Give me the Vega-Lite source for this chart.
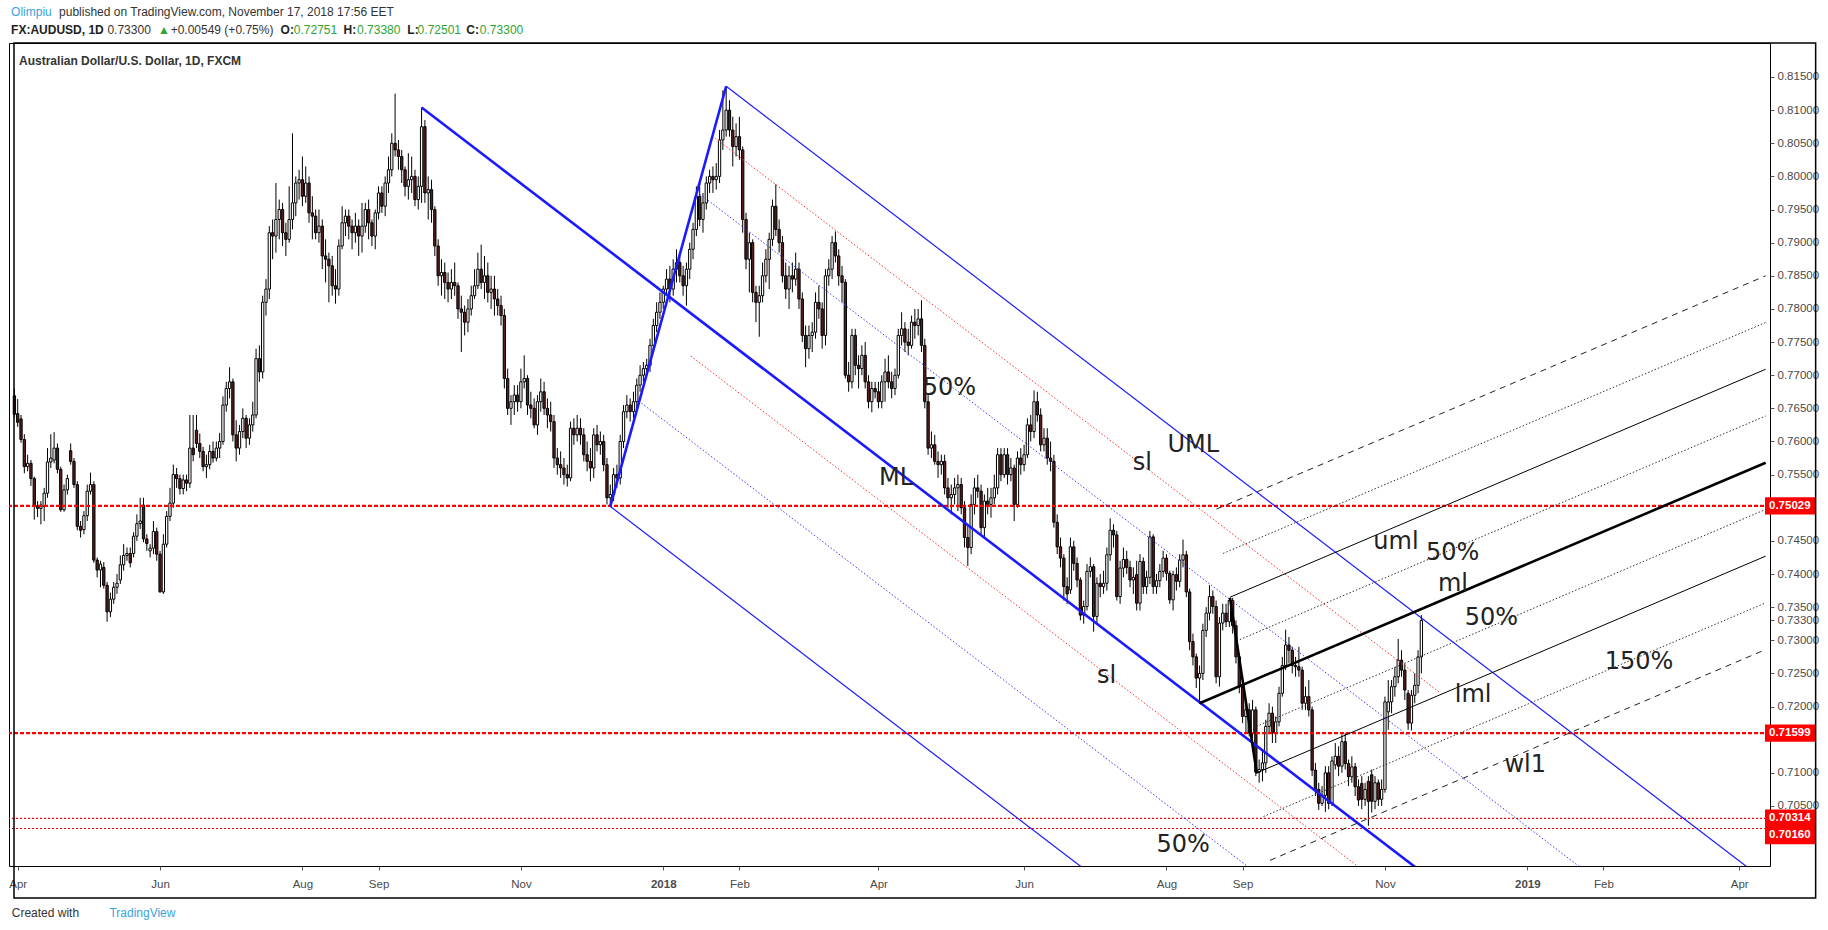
{
  "$schema": "https://vega.github.io/schema/vega-lite/v6.json",
  "width": 1761,
  "height": 823,
  "autosize": {"type": "none"},
  "padding": {"left": 9, "top": 43, "right": 58, "bottom": 64},
  "background": "#ffffff",
  "config": {"view": {"stroke": "#000000", "strokeWidth": 1}, "font": "Liberation Sans"},
  "datasets": {
    "candles": [
      {"i":0,"o":0.7669,"h":0.768,"l":0.7636,"c":0.7641},{"i":1,"o":0.7642,"h":0.7664,"l":0.7622,"c":0.7629},{"i":2,"o":0.7634,"h":0.764,"l":0.7598,"c":0.7603},{"i":3,"o":0.7603,"h":0.7611,"l":0.7552,"c":0.7562},{"i":4,"o":0.7562,"h":0.758,"l":0.7555,"c":0.7567},
      {"i":5,"o":0.7567,"h":0.7572,"l":0.7533,"c":0.7544},{"i":6,"o":0.7544,"h":0.7547,"l":0.7482,"c":0.7503},{"i":7,"o":0.7503,"h":0.751,"l":0.7486,"c":0.7499},{"i":8,"o":0.7499,"h":0.751,"l":0.7475,"c":0.7504},{"i":9,"o":0.7502,"h":0.753,"l":0.748,"c":0.7522},
      {"i":10,"o":0.7522,"h":0.759,"l":0.7515,"c":0.7569},{"i":11,"o":0.7569,"h":0.7611,"l":0.756,"c":0.7575},{"i":12,"o":0.7572,"h":0.7614,"l":0.7567,"c":0.759},{"i":13,"o":0.759,"h":0.7597,"l":0.7552,"c":0.7558},{"i":14,"o":0.7558,"h":0.7562,"l":0.7494,"c":0.7497},
      {"i":15,"o":0.7497,"h":0.7535,"l":0.7494,"c":0.7527},{"i":16,"o":0.7527,"h":0.755,"l":0.752,"c":0.7544},{"i":17,"o":0.7586,"h":0.7597,"l":0.7565,"c":0.757},{"i":18,"o":0.757,"h":0.7575,"l":0.753,"c":0.7535},{"i":19,"o":0.7535,"h":0.754,"l":0.7466,"c":0.7472},
      {"i":20,"o":0.7472,"h":0.748,"l":0.7455,"c":0.7466},{"i":21,"o":0.7467,"h":0.7495,"l":0.746,"c":0.7488},{"i":22,"o":0.7488,"h":0.7535,"l":0.748,"c":0.7525},{"i":23,"o":0.7525,"h":0.7553,"l":0.752,"c":0.7535},{"i":24,"o":0.7535,"h":0.754,"l":0.7417,"c":0.7421},
      {"i":25,"o":0.7421,"h":0.7425,"l":0.7395,"c":0.7406},{"i":26,"o":0.7406,"h":0.742,"l":0.738,"c":0.7415},{"i":27,"o":0.741,"h":0.7418,"l":0.7378,"c":0.7383},{"i":28,"o":0.7383,"h":0.7388,"l":0.7328,"c":0.7343},{"i":29,"o":0.7343,"h":0.7372,"l":0.7335,"c":0.7362},
      {"i":30,"o":0.7362,"h":0.7388,"l":0.7355,"c":0.738},{"i":31,"o":0.738,"h":0.74,"l":0.737,"c":0.7386},{"i":32,"o":0.7391,"h":0.7428,"l":0.7385,"c":0.7414},{"i":33,"o":0.7414,"h":0.7445,"l":0.7405,"c":0.7428},{"i":34,"o":0.7428,"h":0.744,"l":0.742,"c":0.7431},
      {"i":35,"o":0.7431,"h":0.744,"l":0.741,"c":0.7417},{"i":36,"o":0.7431,"h":0.7463,"l":0.7425,"c":0.7457},{"i":37,"o":0.7457,"h":0.749,"l":0.745,"c":0.7476},{"i":38,"o":0.7476,"h":0.7515,"l":0.7468,"c":0.748},{"i":39,"o":0.7504,"h":0.7515,"l":0.7448,"c":0.7453},
      {"i":40,"o":0.7453,"h":0.746,"l":0.7435,"c":0.7446},{"i":41,"o":0.7435,"h":0.7445,"l":0.7425,"c":0.7439},{"i":42,"o":0.7439,"h":0.748,"l":0.743,"c":0.7464},{"i":43,"o":0.7464,"h":0.747,"l":0.742,"c":0.743},{"i":44,"o":0.743,"h":0.7435,"l":0.7372,"c":0.7373},
      {"i":45,"o":0.7373,"h":0.746,"l":0.737,"c":0.7445},{"i":46,"o":0.7445,"h":0.7495,"l":0.744,"c":0.7487},{"i":47,"o":0.7487,"h":0.753,"l":0.748,"c":0.7507},{"i":48,"o":0.7507,"h":0.7565,"l":0.75,"c":0.755},{"i":49,"o":0.755,"h":0.756,"l":0.753,"c":0.7544},
      {"i":50,"o":0.7544,"h":0.755,"l":0.752,"c":0.7529},{"i":51,"o":0.7529,"h":0.755,"l":0.752,"c":0.7542},{"i":52,"o":0.7542,"h":0.755,"l":0.7525,"c":0.7537},{"i":53,"o":0.7537,"h":0.764,"l":0.753,"c":0.759},{"i":54,"o":0.759,"h":0.764,"l":0.757,"c":0.758},
      {"i":55,"o":0.7617,"h":0.764,"l":0.759,"c":0.7597},{"i":56,"o":0.7597,"h":0.7612,"l":0.7575,"c":0.7585},{"i":57,"o":0.7585,"h":0.7592,"l":0.7555,"c":0.7562},{"i":58,"o":0.7562,"h":0.758,"l":0.7545,"c":0.7565},{"i":59,"o":0.7565,"h":0.7595,"l":0.7558,"c":0.7585},
      {"i":60,"o":0.7585,"h":0.76,"l":0.7568,"c":0.7575},{"i":61,"o":0.7575,"h":0.76,"l":0.757,"c":0.759},{"i":62,"o":0.759,"h":0.7613,"l":0.7575,"c":0.76},{"i":63,"o":0.76,"h":0.7668,"l":0.7595,"c":0.7655},{"i":64,"o":0.7655,"h":0.769,"l":0.7645,"c":0.768},
      {"i":65,"o":0.768,"h":0.7712,"l":0.7665,"c":0.769},{"i":66,"o":0.769,"h":0.7695,"l":0.76,"c":0.761},{"i":67,"o":0.761,"h":0.7632,"l":0.757,"c":0.759},{"i":68,"o":0.759,"h":0.7625,"l":0.758,"c":0.7615},{"i":69,"o":0.7615,"h":0.765,"l":0.7605,"c":0.7635},
      {"i":70,"o":0.7635,"h":0.764,"l":0.759,"c":0.7605},{"i":71,"o":0.7605,"h":0.7635,"l":0.7595,"c":0.7625},{"i":72,"o":0.7625,"h":0.766,"l":0.7615,"c":0.764},{"i":73,"o":0.764,"h":0.774,"l":0.7635,"c":0.7725},{"i":74,"o":0.7725,"h":0.7745,"l":0.769,"c":0.7705},
      {"i":75,"o":0.7705,"h":0.782,"l":0.7695,"c":0.781},{"i":76,"o":0.781,"h":0.7845,"l":0.779,"c":0.783},{"i":77,"o":0.783,"h":0.7925,"l":0.7815,"c":0.7915},{"i":78,"o":0.7915,"h":0.7935,"l":0.7875,"c":0.791},{"i":79,"o":0.791,"h":0.799,"l":0.7885,"c":0.7935},
      {"i":80,"o":0.7935,"h":0.7965,"l":0.7905,"c":0.795},{"i":81,"o":0.795,"h":0.796,"l":0.7895,"c":0.7915},{"i":82,"o":0.7915,"h":0.793,"l":0.788,"c":0.7905},{"i":83,"o":0.7905,"h":0.7985,"l":0.79,"c":0.7935},{"i":84,"o":0.7935,"h":0.8065,"l":0.792,"c":0.796},
      {"i":85,"o":0.796,"h":0.8,"l":0.794,"c":0.799},{"i":86,"o":0.799,"h":0.801,"l":0.7965,"c":0.7995},{"i":87,"o":0.7995,"h":0.803,"l":0.7955,"c":0.797},{"i":88,"o":0.797,"h":0.8015,"l":0.796,"c":0.799},{"i":89,"o":0.799,"h":0.8,"l":0.793,"c":0.7945},
      {"i":90,"o":0.7945,"h":0.797,"l":0.7905,"c":0.794},{"i":91,"o":0.794,"h":0.795,"l":0.7905,"c":0.7915},{"i":92,"o":0.7915,"h":0.795,"l":0.79,"c":0.7925},{"i":93,"o":0.7925,"h":0.7935,"l":0.786,"c":0.788},{"i":94,"o":0.788,"h":0.7905,"l":0.784,"c":0.7875},
      {"i":95,"o":0.7875,"h":0.7885,"l":0.781,"c":0.7865},{"i":96,"o":0.7865,"h":0.788,"l":0.782,"c":0.7835},{"i":97,"o":0.7835,"h":0.786,"l":0.7808,"c":0.783},{"i":98,"o":0.783,"h":0.7905,"l":0.782,"c":0.7895},{"i":99,"o":0.7895,"h":0.7955,"l":0.789,"c":0.793},
      {"i":100,"o":0.793,"h":0.795,"l":0.791,"c":0.794},{"i":101,"o":0.794,"h":0.795,"l":0.7905,"c":0.7925},{"i":102,"o":0.7925,"h":0.7935,"l":0.789,"c":0.7915},{"i":103,"o":0.7915,"h":0.7945,"l":0.79,"c":0.7925},{"i":104,"o":0.7925,"h":0.7935,"l":0.788,"c":0.791},
      {"i":105,"o":0.791,"h":0.796,"l":0.7885,"c":0.7925},{"i":106,"o":0.7925,"h":0.796,"l":0.7915,"c":0.795},{"i":107,"o":0.795,"h":0.7965,"l":0.7905,"c":0.793},{"i":108,"o":0.793,"h":0.7935,"l":0.7895,"c":0.791},{"i":109,"o":0.791,"h":0.795,"l":0.789,"c":0.7945},
      {"i":110,"o":0.7945,"h":0.7985,"l":0.7935,"c":0.7975},{"i":111,"o":0.7975,"h":0.7985,"l":0.7945,"c":0.7955},{"i":112,"o":0.7955,"h":0.8,"l":0.794,"c":0.799},{"i":113,"o":0.799,"h":0.803,"l":0.7975,"c":0.801},{"i":114,"o":0.801,"h":0.8065,"l":0.8,"c":0.805},
      {"i":115,"o":0.805,"h":0.8125,"l":0.803,"c":0.804},{"i":116,"o":0.804,"h":0.8055,"l":0.801,"c":0.803},{"i":117,"o":0.803,"h":0.804,"l":0.799,"c":0.801},{"i":118,"o":0.801,"h":0.8015,"l":0.797,"c":0.7985},{"i":119,"o":0.7985,"h":0.8035,"l":0.7965,"c":0.7995},
      {"i":120,"o":0.7995,"h":0.803,"l":0.7975,"c":0.8},{"i":121,"o":0.8,"h":0.801,"l":0.7955,"c":0.7965},{"i":122,"o":0.7965,"h":0.8,"l":0.795,"c":0.7985},{"i":123,"o":0.7985,"h":0.8104,"l":0.796,"c":0.8075},{"i":124,"o":0.8075,"h":0.8085,"l":0.796,"c":0.7975},
      {"i":125,"o":0.7975,"h":0.8,"l":0.7935,"c":0.798},{"i":126,"o":0.798,"h":0.7995,"l":0.793,"c":0.795},{"i":127,"o":0.795,"h":0.7955,"l":0.788,"c":0.7895},{"i":128,"o":0.7895,"h":0.7905,"l":0.7835,"c":0.785},{"i":129,"o":0.785,"h":0.7875,"l":0.782,"c":0.7855},
      {"i":130,"o":0.7855,"h":0.787,"l":0.7815,"c":0.784},{"i":131,"o":0.784,"h":0.7855,"l":0.781,"c":0.783},{"i":132,"o":0.783,"h":0.786,"l":0.7815,"c":0.784},{"i":133,"o":0.784,"h":0.787,"l":0.782,"c":0.7835},{"i":134,"o":0.7835,"h":0.784,"l":0.7785,"c":0.78},
      {"i":135,"o":0.78,"h":0.782,"l":0.7735,"c":0.7795},{"i":136,"o":0.7795,"h":0.7805,"l":0.776,"c":0.778},{"i":137,"o":0.778,"h":0.7815,"l":0.7765,"c":0.78},{"i":138,"o":0.78,"h":0.7835,"l":0.779,"c":0.782},{"i":139,"o":0.782,"h":0.786,"l":0.7815,"c":0.7835},
      {"i":140,"o":0.7835,"h":0.7885,"l":0.783,"c":0.786},{"i":141,"o":0.786,"h":0.7897,"l":0.783,"c":0.784},{"i":142,"o":0.784,"h":0.788,"l":0.7815,"c":0.785},{"i":143,"o":0.785,"h":0.787,"l":0.781,"c":0.7825},{"i":144,"o":0.7825,"h":0.785,"l":0.78,"c":0.783},
      {"i":145,"o":0.783,"h":0.785,"l":0.779,"c":0.7815},{"i":146,"o":0.7815,"h":0.783,"l":0.779,"c":0.7805},{"i":147,"o":0.7805,"h":0.782,"l":0.7775,"c":0.779},{"i":148,"o":0.779,"h":0.78,"l":0.768,"c":0.7695},{"i":149,"o":0.7695,"h":0.771,"l":0.764,"c":0.765},
      {"i":150,"o":0.765,"h":0.767,"l":0.7625,"c":0.766},{"i":151,"o":0.766,"h":0.7685,"l":0.764,"c":0.767},{"i":152,"o":0.767,"h":0.7685,"l":0.7645,"c":0.766},{"i":153,"o":0.766,"h":0.771,"l":0.765,"c":0.769},{"i":154,"o":0.769,"h":0.773,"l":0.768,"c":0.7695},
      {"i":155,"o":0.7695,"h":0.77,"l":0.764,"c":0.7655},{"i":156,"o":0.7655,"h":0.7675,"l":0.7635,"c":0.765},{"i":157,"o":0.765,"h":0.7665,"l":0.762,"c":0.7625},{"i":158,"o":0.7625,"h":0.767,"l":0.761,"c":0.766},{"i":159,"o":0.766,"h":0.7695,"l":0.7645,"c":0.7675},
      {"i":160,"o":0.7675,"h":0.769,"l":0.764,"c":0.765},{"i":161,"o":0.765,"h":0.7665,"l":0.762,"c":0.764},{"i":162,"o":0.764,"h":0.766,"l":0.7615,"c":0.763},{"i":163,"o":0.763,"h":0.764,"l":0.756,"c":0.7575},{"i":164,"o":0.7575,"h":0.759,"l":0.755,"c":0.7565},
      {"i":165,"o":0.7565,"h":0.7585,"l":0.7545,"c":0.756},{"i":166,"o":0.756,"h":0.7575,"l":0.7535,"c":0.755},{"i":167,"o":0.755,"h":0.7565,"l":0.7532,"c":0.7545},{"i":168,"o":0.7545,"h":0.763,"l":0.754,"c":0.762},{"i":169,"o":0.762,"h":0.7635,"l":0.7595,"c":0.761},
      {"i":170,"o":0.761,"h":0.764,"l":0.76,"c":0.762},{"i":171,"o":0.762,"h":0.7635,"l":0.7595,"c":0.761},{"i":172,"o":0.761,"h":0.762,"l":0.757,"c":0.758},{"i":173,"o":0.758,"h":0.76,"l":0.7555,"c":0.757},{"i":174,"o":0.757,"h":0.759,"l":0.754,"c":0.756},
      {"i":175,"o":0.756,"h":0.762,"l":0.7545,"c":0.761},{"i":176,"o":0.761,"h":0.7625,"l":0.7585,"c":0.7595},{"i":177,"o":0.7595,"h":0.7615,"l":0.758,"c":0.76},{"i":178,"o":0.76,"h":0.761,"l":0.7555,"c":0.7565},{"i":179,"o":0.7565,"h":0.7575,"l":0.7505,"c":0.7515},
      {"i":180,"o":0.7515,"h":0.7535,"l":0.7502,"c":0.752},{"i":181,"o":0.752,"h":0.756,"l":0.751,"c":0.755},{"i":182,"o":0.755,"h":0.7565,"l":0.753,"c":0.7545},{"i":183,"o":0.7545,"h":0.761,"l":0.7535,"c":0.76},{"i":184,"o":0.76,"h":0.7655,"l":0.759,"c":0.7645},
      {"i":185,"o":0.7645,"h":0.767,"l":0.7635,"c":0.7655},{"i":186,"o":0.7655,"h":0.7665,"l":0.763,"c":0.7645},{"i":187,"o":0.7645,"h":0.7675,"l":0.7635,"c":0.766},{"i":188,"o":0.766,"h":0.7695,"l":0.765,"c":0.7685},{"i":189,"o":0.7685,"h":0.7715,"l":0.7675,"c":0.77},
      {"i":190,"o":0.77,"h":0.772,"l":0.769,"c":0.771},{"i":191,"o":0.771,"h":0.7725,"l":0.77,"c":0.7715},{"i":192,"o":0.7715,"h":0.7755,"l":0.7705,"c":0.7745},{"i":193,"o":0.7745,"h":0.7785,"l":0.7735,"c":0.7775},{"i":194,"o":0.7775,"h":0.781,"l":0.7765,"c":0.7795},
      {"i":195,"o":0.7795,"h":0.7825,"l":0.7785,"c":0.781},{"i":196,"o":0.781,"h":0.7835,"l":0.78,"c":0.783},{"i":197,"o":0.783,"h":0.786,"l":0.782,"c":0.7845},{"i":198,"o":0.7845,"h":0.7865,"l":0.781,"c":0.783},{"i":199,"o":0.783,"h":0.7875,"l":0.782,"c":0.786},
      {"i":200,"o":0.786,"h":0.789,"l":0.784,"c":0.787},{"i":201,"o":0.787,"h":0.788,"l":0.784,"c":0.785},{"i":202,"o":0.785,"h":0.7865,"l":0.782,"c":0.7835},{"i":203,"o":0.7835,"h":0.787,"l":0.7805,"c":0.786},{"i":204,"o":0.786,"h":0.79,"l":0.7845,"c":0.789},
      {"i":205,"o":0.789,"h":0.793,"l":0.7875,"c":0.792},{"i":206,"o":0.792,"h":0.7985,"l":0.791,"c":0.797},{"i":207,"o":0.797,"h":0.799,"l":0.7925,"c":0.7935},{"i":208,"o":0.7935,"h":0.7975,"l":0.7915,"c":0.796},{"i":209,"o":0.796,"h":0.8,"l":0.795,"c":0.799},
      {"i":210,"o":0.799,"h":0.801,"l":0.7975,"c":0.8},{"i":211,"o":0.8,"h":0.8015,"l":0.7975,"c":0.7995},{"i":212,"o":0.7995,"h":0.802,"l":0.798,"c":0.8},{"i":213,"o":0.8,"h":0.807,"l":0.799,"c":0.8055},{"i":214,"o":0.8055,"h":0.813,"l":0.804,"c":0.807},
      {"i":215,"o":0.807,"h":0.8136,"l":0.806,"c":0.81},{"i":216,"o":0.81,"h":0.8115,"l":0.806,"c":0.807},{"i":217,"o":0.807,"h":0.809,"l":0.8015,"c":0.8045},{"i":218,"o":0.8045,"h":0.808,"l":0.803,"c":0.806},{"i":219,"o":0.806,"h":0.809,"l":0.8025,"c":0.804},
      {"i":220,"o":0.804,"h":0.8045,"l":0.7915,"c":0.7935},{"i":221,"o":0.7935,"h":0.7945,"l":0.786,"c":0.7875},{"i":222,"o":0.7875,"h":0.7915,"l":0.7825,"c":0.79},{"i":223,"o":0.79,"h":0.7905,"l":0.781,"c":0.7825},{"i":224,"o":0.7825,"h":0.7835,"l":0.778,"c":0.781},
      {"i":225,"o":0.781,"h":0.7835,"l":0.7758,"c":0.782},{"i":226,"o":0.782,"h":0.787,"l":0.781,"c":0.785},{"i":227,"o":0.785,"h":0.789,"l":0.784,"c":0.7875},{"i":228,"o":0.7875,"h":0.7915,"l":0.783,"c":0.7905},{"i":229,"o":0.7905,"h":0.7965,"l":0.7895,"c":0.7955},
      {"i":230,"o":0.7955,"h":0.7988,"l":0.791,"c":0.792},{"i":231,"o":0.792,"h":0.7935,"l":0.7885,"c":0.79},{"i":232,"o":0.79,"h":0.791,"l":0.784,"c":0.785},{"i":233,"o":0.785,"h":0.787,"l":0.7815,"c":0.783},{"i":234,"o":0.783,"h":0.7865,"l":0.78,"c":0.785},
      {"i":235,"o":0.785,"h":0.787,"l":0.7825,"c":0.7845},{"i":236,"o":0.7845,"h":0.7885,"l":0.7835,"c":0.786},{"i":237,"o":0.786,"h":0.787,"l":0.78,"c":0.7815},{"i":238,"o":0.7815,"h":0.7825,"l":0.775,"c":0.776},{"i":239,"o":0.776,"h":0.7775,"l":0.7712,"c":0.774},
      {"i":240,"o":0.774,"h":0.7775,"l":0.7725,"c":0.776},{"i":241,"o":0.776,"h":0.778,"l":0.7735,"c":0.7765},{"i":242,"o":0.7765,"h":0.7825,"l":0.7755,"c":0.781},{"i":243,"o":0.781,"h":0.7835,"l":0.7785,"c":0.78},{"i":244,"o":0.78,"h":0.781,"l":0.774,"c":0.776},
      {"i":245,"o":0.776,"h":0.786,"l":0.7745,"c":0.785},{"i":246,"o":0.785,"h":0.7875,"l":0.7835,"c":0.786},{"i":247,"o":0.786,"h":0.791,"l":0.7845,"c":0.79},{"i":248,"o":0.79,"h":0.7917,"l":0.787,"c":0.788},{"i":249,"o":0.788,"h":0.789,"l":0.7835,"c":0.785},
      {"i":250,"o":0.785,"h":0.7865,"l":0.781,"c":0.784},{"i":251,"o":0.784,"h":0.7845,"l":0.7695,"c":0.77},{"i":252,"o":0.77,"h":0.772,"l":0.7675,"c":0.769},{"i":253,"o":0.769,"h":0.777,"l":0.768,"c":0.776},{"i":254,"o":0.776,"h":0.777,"l":0.77,"c":0.7715},
      {"i":255,"o":0.7715,"h":0.773,"l":0.768,"c":0.771},{"i":256,"o":0.771,"h":0.7745,"l":0.77,"c":0.773},{"i":257,"o":0.773,"h":0.775,"l":0.768,"c":0.769},{"i":258,"o":0.769,"h":0.77,"l":0.765,"c":0.766},{"i":259,"o":0.766,"h":0.769,"l":0.7644,"c":0.768},
      {"i":260,"o":0.768,"h":0.769,"l":0.7665,"c":0.7675},{"i":261,"o":0.7675,"h":0.769,"l":0.765,"c":0.766},{"i":262,"o":0.766,"h":0.77,"l":0.765,"c":0.769},{"i":263,"o":0.769,"h":0.7725,"l":0.766,"c":0.7705},{"i":264,"o":0.7705,"h":0.773,"l":0.768,"c":0.769},
      {"i":265,"o":0.769,"h":0.7705,"l":0.7665,"c":0.768},{"i":266,"o":0.768,"h":0.771,"l":0.767,"c":0.77},{"i":267,"o":0.77,"h":0.777,"l":0.7695,"c":0.776},{"i":268,"o":0.776,"h":0.7795,"l":0.7745,"c":0.777},{"i":269,"o":0.777,"h":0.778,"l":0.7735,"c":0.775},
      {"i":270,"o":0.775,"h":0.777,"l":0.773,"c":0.7745},{"i":271,"o":0.7745,"h":0.779,"l":0.774,"c":0.778},{"i":272,"o":0.778,"h":0.78,"l":0.7755,"c":0.7775},{"i":273,"o":0.7775,"h":0.78,"l":0.776,"c":0.7785},{"i":274,"o":0.7785,"h":0.7813,"l":0.7735,"c":0.7745},
      {"i":275,"o":0.7745,"h":0.7755,"l":0.765,"c":0.766},{"i":276,"o":0.766,"h":0.767,"l":0.758,"c":0.759},{"i":277,"o":0.759,"h":0.7615,"l":0.7575,"c":0.7595},{"i":278,"o":0.7595,"h":0.761,"l":0.7565,"c":0.757},{"i":279,"o":0.757,"h":0.7585,"l":0.7545,"c":0.7565},
      {"i":280,"o":0.7565,"h":0.758,"l":0.755,"c":0.757},{"i":281,"o":0.757,"h":0.758,"l":0.752,"c":0.753},{"i":282,"o":0.753,"h":0.7545,"l":0.75,"c":0.7515},{"i":283,"o":0.7515,"h":0.7535,"l":0.749,"c":0.752},{"i":284,"o":0.752,"h":0.7545,"l":0.7505,"c":0.753},
      {"i":285,"o":0.753,"h":0.755,"l":0.7495,"c":0.7535},{"i":286,"o":0.7535,"h":0.7545,"l":0.749,"c":0.75},{"i":287,"o":0.75,"h":0.751,"l":0.744,"c":0.7455},{"i":288,"o":0.7455,"h":0.7475,"l":0.7412,"c":0.744},{"i":289,"o":0.744,"h":0.752,"l":0.743,"c":0.7505},
      {"i":290,"o":0.7505,"h":0.7545,"l":0.749,"c":0.753},{"i":291,"o":0.753,"h":0.755,"l":0.7515,"c":0.7525},{"i":292,"o":0.7525,"h":0.7535,"l":0.746,"c":0.747},{"i":293,"o":0.747,"h":0.752,"l":0.7455,"c":0.751},{"i":294,"o":0.751,"h":0.753,"l":0.749,"c":0.7505},
      {"i":295,"o":0.7505,"h":0.753,"l":0.7485,"c":0.7515},{"i":296,"o":0.7515,"h":0.755,"l":0.7505,"c":0.753},{"i":297,"o":0.753,"h":0.759,"l":0.752,"c":0.758},{"i":298,"o":0.758,"h":0.759,"l":0.754,"c":0.755},{"i":299,"o":0.755,"h":0.759,"l":0.7545,"c":0.758},
      {"i":300,"o":0.758,"h":0.759,"l":0.7535,"c":0.755},{"i":301,"o":0.755,"h":0.7575,"l":0.754,"c":0.756},{"i":302,"o":0.756,"h":0.7565,"l":0.748,"c":0.7505},{"i":303,"o":0.7505,"h":0.7585,"l":0.75,"c":0.7575},{"i":304,"o":0.7575,"h":0.759,"l":0.755,"c":0.7565},
      {"i":305,"o":0.7565,"h":0.7595,"l":0.7555,"c":0.758},{"i":306,"o":0.758,"h":0.7635,"l":0.7575,"c":0.7625},{"i":307,"o":0.7625,"h":0.764,"l":0.76,"c":0.7615},{"i":308,"o":0.7615,"h":0.7677,"l":0.7605,"c":0.766},{"i":309,"o":0.766,"h":0.7675,"l":0.763,"c":0.764},
      {"i":310,"o":0.764,"h":0.765,"l":0.7585,"c":0.7595},{"i":311,"o":0.7595,"h":0.762,"l":0.7585,"c":0.7605},{"i":312,"o":0.7605,"h":0.762,"l":0.7565,"c":0.7575},{"i":313,"o":0.7575,"h":0.76,"l":0.7555,"c":0.757},{"i":314,"o":0.757,"h":0.758,"l":0.747,"c":0.7478},
      {"i":315,"o":0.7478,"h":0.749,"l":0.743,"c":0.7441},{"i":316,"o":0.7441,"h":0.7455,"l":0.741,"c":0.7424},{"i":317,"o":0.7424,"h":0.743,"l":0.736,"c":0.7381},{"i":318,"o":0.7381,"h":0.7395,"l":0.7355,"c":0.737},{"i":319,"o":0.7376,"h":0.7455,"l":0.737,"c":0.7441},
      {"i":320,"o":0.7441,"h":0.745,"l":0.7405,"c":0.7416},{"i":321,"o":0.7416,"h":0.7425,"l":0.738,"c":0.7391},{"i":322,"o":0.7391,"h":0.7395,"l":0.733,"c":0.7338},{"i":323,"o":0.7338,"h":0.736,"l":0.7325,"c":0.7351},{"i":324,"o":0.7351,"h":0.7415,"l":0.7345,"c":0.7404},
      {"i":325,"o":0.7404,"h":0.7425,"l":0.7395,"c":0.7411},{"i":326,"o":0.7411,"h":0.7415,"l":0.7313,"c":0.7336},{"i":327,"o":0.7336,"h":0.7395,"l":0.7325,"c":0.7386},{"i":328,"o":0.7386,"h":0.74,"l":0.7365,"c":0.7381},{"i":329,"o":0.7381,"h":0.7405,"l":0.737,"c":0.7386},
      {"i":330,"o":0.7386,"h":0.744,"l":0.7375,"c":0.7429},{"i":331,"o":0.7429,"h":0.7484,"l":0.742,"c":0.7466},{"i":332,"o":0.7466,"h":0.7475,"l":0.744,"c":0.7459},{"i":333,"o":0.7459,"h":0.7465,"l":0.736,"c":0.7366},{"i":334,"o":0.7366,"h":0.742,"l":0.7355,"c":0.7409},
      {"i":335,"o":0.7409,"h":0.744,"l":0.7395,"c":0.7422},{"i":336,"o":0.7422,"h":0.7435,"l":0.74,"c":0.741},{"i":337,"o":0.741,"h":0.742,"l":0.738,"c":0.7391},{"i":338,"o":0.7391,"h":0.741,"l":0.737,"c":0.7395},{"i":339,"o":0.7399,"h":0.742,"l":0.7345,"c":0.7356},
      {"i":340,"o":0.7356,"h":0.743,"l":0.7345,"c":0.7419},{"i":341,"o":0.7419,"h":0.7425,"l":0.737,"c":0.7381},{"i":342,"o":0.7381,"h":0.7405,"l":0.737,"c":0.7395},{"i":343,"o":0.7395,"h":0.7465,"l":0.7385,"c":0.7456},{"i":344,"o":0.7456,"h":0.746,"l":0.737,"c":0.7381},
      {"i":345,"o":0.7381,"h":0.74,"l":0.737,"c":0.739},{"i":346,"o":0.739,"h":0.7415,"l":0.738,"c":0.7404},{"i":347,"o":0.7404,"h":0.7435,"l":0.7395,"c":0.7424},{"i":348,"o":0.7424,"h":0.743,"l":0.739,"c":0.7401},{"i":349,"o":0.7401,"h":0.7405,"l":0.7355,"c":0.7361},
      {"i":350,"o":0.7361,"h":0.7405,"l":0.7345,"c":0.7399},{"i":351,"o":0.7399,"h":0.741,"l":0.7375,"c":0.7389},{"i":352,"o":0.7389,"h":0.743,"l":0.738,"c":0.7421},{"i":353,"o":0.7421,"h":0.7452,"l":0.741,"c":0.7429},{"i":354,"o":0.7429,"h":0.7435,"l":0.7365,"c":0.7373},
      {"i":355,"o":0.7373,"h":0.7378,"l":0.7285,"c":0.7298},{"i":356,"o":0.7298,"h":0.731,"l":0.7262,"c":0.7275},{"i":357,"o":0.7275,"h":0.728,"l":0.7228,"c":0.7243},{"i":358,"o":0.7243,"h":0.7262,"l":0.7204,"c":0.725},{"i":359,"o":0.725,"h":0.7325,"l":0.724,"c":0.7315},
      {"i":360,"o":0.7315,"h":0.735,"l":0.7305,"c":0.7341},{"i":361,"o":0.7341,"h":0.7383,"l":0.733,"c":0.7366},{"i":362,"o":0.7366,"h":0.7375,"l":0.734,"c":0.7351},{"i":363,"o":0.7351,"h":0.736,"l":0.7235,"c":0.7245},{"i":364,"o":0.7245,"h":0.7335,"l":0.723,"c":0.7326},
      {"i":365,"o":0.7326,"h":0.7355,"l":0.7315,"c":0.7341},{"i":366,"o":0.7341,"h":0.7355,"l":0.732,"c":0.7328},{"i":367,"o":0.7328,"h":0.7364,"l":0.732,"c":0.736},{"i":368,"o":0.736,"h":0.7364,"l":0.731,"c":0.7322},{"i":369,"o":0.7322,"h":0.733,"l":0.7265,"c":0.7275},
      {"i":370,"o":0.7275,"h":0.728,"l":0.722,"c":0.723},{"i":371,"o":0.723,"h":0.7238,"l":0.7175,"c":0.7185},{"i":372,"o":0.7185,"h":0.7205,"l":0.716,"c":0.7195},{"i":373,"o":0.7195,"h":0.7205,"l":0.7155,"c":0.716},{"i":374,"o":0.716,"h":0.721,"l":0.715,"c":0.7195},
      {"i":375,"o":0.7195,"h":0.72,"l":0.7095,"c":0.7101},{"i":376,"o":0.7101,"h":0.712,"l":0.7085,"c":0.7105},{"i":377,"o":0.7105,"h":0.7135,"l":0.7087,"c":0.7115},{"i":378,"o":0.7115,"h":0.718,"l":0.71,"c":0.717},{"i":379,"o":0.717,"h":0.7205,"l":0.716,"c":0.719},
      {"i":380,"o":0.719,"h":0.72,"l":0.7145,"c":0.716},{"i":381,"o":0.716,"h":0.7185,"l":0.7145,"c":0.7177},{"i":382,"o":0.7177,"h":0.723,"l":0.717,"c":0.722},{"i":383,"o":0.722,"h":0.7275,"l":0.7215,"c":0.7262},{"i":384,"o":0.7262,"h":0.7316,"l":0.7255,"c":0.7293},
      {"i":385,"o":0.7293,"h":0.7305,"l":0.7265,"c":0.7285},{"i":386,"o":0.7285,"h":0.729,"l":0.725,"c":0.7262},{"i":387,"o":0.7262,"h":0.7275,"l":0.7245,"c":0.726},{"i":388,"o":0.726,"h":0.729,"l":0.7245,"c":0.7255},{"i":389,"o":0.7255,"h":0.726,"l":0.7195,"c":0.7205},
      {"i":390,"o":0.7205,"h":0.723,"l":0.7195,"c":0.7215},{"i":391,"o":0.7215,"h":0.724,"l":0.7185,"c":0.7195},{"i":392,"o":0.7195,"h":0.72,"l":0.7095,"c":0.7104},{"i":393,"o":0.7104,"h":0.7115,"l":0.7065,"c":0.7075},{"i":394,"o":0.7075,"h":0.7085,"l":0.7044,"c":0.7054},
      {"i":395,"o":0.7054,"h":0.708,"l":0.705,"c":0.7066},{"i":396,"o":0.7066,"h":0.711,"l":0.7041,"c":0.71},{"i":397,"o":0.71,"h":0.711,"l":0.7045,"c":0.7054},{"i":398,"o":0.7054,"h":0.7125,"l":0.705,"c":0.7118},{"i":399,"o":0.7112,"h":0.7145,"l":0.7105,"c":0.7125},
      {"i":400,"o":0.7125,"h":0.714,"l":0.7095,"c":0.711},{"i":401,"o":0.711,"h":0.7158,"l":0.71,"c":0.7147},{"i":402,"o":0.7147,"h":0.716,"l":0.7105,"c":0.7114},{"i":403,"o":0.7114,"h":0.712,"l":0.708,"c":0.7094},{"i":404,"o":0.7094,"h":0.7125,"l":0.7085,"c":0.7109},
      {"i":405,"o":0.7109,"h":0.7115,"l":0.7065,"c":0.7079},{"i":406,"o":0.7079,"h":0.709,"l":0.705,"c":0.7059},{"i":407,"o":0.7084,"h":0.7095,"l":0.7045,"c":0.706},{"i":408,"o":0.706,"h":0.7085,"l":0.705,"c":0.7075},{"i":409,"o":0.7087,"h":0.7095,"l":0.702,"c":0.7057},
      {"i":410,"o":0.7097,"h":0.7105,"l":0.704,"c":0.7057},{"i":411,"o":0.7057,"h":0.7095,"l":0.7045,"c":0.7085},{"i":412,"o":0.7085,"h":0.709,"l":0.705,"c":0.706},{"i":413,"o":0.706,"h":0.709,"l":0.705,"c":0.7075},{"i":414,"o":0.7075,"h":0.7215,"l":0.707,"c":0.7207},
      {"i":415,"o":0.7192,"h":0.724,"l":0.7165,"c":0.7207},{"i":416,"o":0.7207,"h":0.724,"l":0.719,"c":0.723},{"i":417,"o":0.723,"h":0.726,"l":0.7215,"c":0.7245},{"i":418,"o":0.7245,"h":0.7302,"l":0.7235,"c":0.727},{"i":419,"o":0.727,"h":0.7285,"l":0.7245,"c":0.7255},
      {"i":420,"o":0.7255,"h":0.7265,"l":0.721,"c":0.7225},{"i":421,"o":0.722,"h":0.7225,"l":0.7165,"c":0.7175},{"i":422,"o":0.7175,"h":0.7225,"l":0.7164,"c":0.7217},{"i":423,"o":0.7217,"h":0.725,"l":0.7205,"c":0.7232},{"i":424,"o":0.7232,"h":0.7285,"l":0.722,"c":0.7275},
      {"i":425,"o":0.7275,"h":0.7338,"l":0.725,"c":0.733}
    ],
    "lines": [
      {"k":"blueThick","id":"bc","i":180,"p":0.7502},{"k":"blueThick","id":"bc","i":215,"p":0.8136},
      {"k":"blueThick","id":"med","i":123,"p":0.8104},{"k":"blueThick","id":"med","i":438,"p":0.6901},
      {"k":"blueThin","id":"up","i":215,"p":0.8136},{"k":"blueThin","id":"up","i":540,"p":0.68945},
      {"k":"blueThin","id":"lo","i":180,"p":0.7502},{"k":"blueThin","id":"lo","i":338,"p":0.6898},
      {"k":"blueDot","id":"uh","i":206.1,"p":0.7977},{"k":"blueDot","id":"uh","i":487.5,"p":0.6902},
      {"k":"blueDot","id":"lh","i":188.6,"p":0.7661},{"k":"blueDot","id":"lh","i":387.1,"p":0.6903},
      {"k":"redDot","id":"su","i":210.8,"p":0.8061},{"k":"redDot","id":"su","i":430.6,"p":0.7221},
      {"k":"redDot","id":"sd","i":204.3,"p":0.7729},{"k":"redDot","id":"sd","i":422,"p":0.6897},
      {"k":"blackThick","id":"ml","i":358,"p":0.7205},{"k":"blackThick","id":"ml","i":529,"p":0.7568},
      {"k":"blackThick","id":"bc2","i":367.2,"p":0.7364},{"k":"blackThick","id":"bc2","i":375.3,"p":0.7099},
      {"k":"blackThin","id":"uml","i":367.2,"p":0.7365},{"k":"blackThin","id":"uml","i":529,"p":0.7709},
      {"k":"blackThin","id":"lml","i":375.3,"p":0.71},{"k":"blackThin","id":"lml","i":529,"p":0.7427},
      {"k":"blackDot","id":"p1","i":369.2,"p":0.7299},{"k":"blackDot","id":"p1","i":529,"p":0.76385},
      {"k":"blackDot","id":"p3","i":365.1,"p":0.7431},{"k":"blackDot","id":"p3","i":529,"p":0.77795},
      {"k":"blackDot","id":"m1","i":373.2,"p":0.7166},{"k":"blackDot","id":"m1","i":529,"p":0.74975},
      {"k":"blackDot","id":"m3","i":377.3,"p":0.7034},{"k":"blackDot","id":"m3","i":529,"p":0.73565},
      {"k":"blackDash","id":"p4","i":363.1,"p":0.7498},{"k":"blackDash","id":"p4","i":529,"p":0.785},
      {"k":"blackDash","id":"m4","i":379.3,"p":0.6968},{"k":"blackDash","id":"m4","i":529,"p":0.7286}
    ],
    "levels": [
      {"p":0.75029,"k":"major"},{"p":0.71599,"k":"major"},{"p":0.70314,"k":"minor"},{"p":0.7016,"k":"minor"}
    ],
    "labels": [
      {"i":261.2,"p":0.7545,"s":"ML"},{"i":274.4,"p":0.7681,"s":"50%"},{"i":337.8,"p":0.7568,"s":"sl"},
      {"i":348.3,"p":0.7595,"s":"UML"},{"i":410.5,"p":0.7448,"s":"uml"},{"i":426.4,"p":0.7432,"s":"50%"},
      {"i":430,"p":0.7385,"s":"ml"},{"i":438.1,"p":0.7334,"s":"50%"},{"i":480.4,"p":0.7267,"s":"150%"},
      {"i":435.1,"p":0.7217,"s":"lml"},{"i":450.1,"p":0.7112,"s":"wl1"},{"i":327,"p":0.7246,"s":"sl"},
      {"i":345,"p":0.6991,"s":"50%"}
    ],
    "notes": [
      {"k":"link","i":-1,"p":0.8248,"s":"Olimpiu"},
      {"k":"plain","i":13.5,"p":0.8248,"s":"published on TradingView.com, November 17, 2018 17:56 EET"},
      {"k":"bold","i":-1,"p":0.8221,"s":"FX:AUDUSD, 1D"},
      {"k":"plain","i":28.1,"p":0.8221,"s":"0.73300"},
      {"k":"up","i":43.4,"p":0.8221,"s":"▲"},
      {"k":"plain","i":47.2,"p":0.8221,"s":"+0.00549 (+0.75%)"},
      {"k":"bold","i":80.4,"p":0.8221,"s":"O:"},
      {"k":"up","i":84.4,"p":0.8221,"s":"0.72751"},
      {"k":"bold","i":99.4,"p":0.8221,"s":"H:"},
      {"k":"up","i":103.5,"p":0.8221,"s":"0.73380"},
      {"k":"bold","i":118.7,"p":0.8221,"s":"L:"},
      {"k":"up","i":121.8,"p":0.8221,"s":"0.72501"},
      {"k":"bold","i":136.5,"p":0.8221,"s":"C:"},
      {"k":"up","i":140.6,"p":0.8221,"s":"0.73300"},
      {"k":"title","i":1.4,"p":0.8174,"s":"Australian Dollar/U.S. Dollar, 1D, FXCM"},
      {"k":"plain","i":-0.8,"p":0.6888,"s":"Created with"},
      {"k":"link","i":28.7,"p":0.6888,"s":"TradingView"}
    ]
  },
  "encoding": {
    "x": {
      "type": "quantitative",
      "scale": {"domain": [-0.12, 528.8], "nice": false, "zero": false},
      "axis": {
        "orient": "bottom", "title": null, "grid": false, "domain": false, "tickSize": 4, "tickColor": "#555555",
        "values": [1, 44, 87, 110, 153, 196, 219, 261, 305, 348, 371, 414, 457, 480, 521],
        "labelExpr": "['Apr','Jun','Aug','Sep','Nov','2018','Feb','Apr','Jun','Aug','Sep','Nov','2019','Feb','Apr'][indexof([1,44,87,110,153,196,219,261,305,348,371,414,457,480,521], datum.value)]",
        "labelColor": "#4a4a4a", "labelFont": "Liberation Sans", "labelFontSize": 11.5, "labelPadding": 8,
        "labelFontWeight": {"condition": {"test": "datum.value == 196 || datum.value == 457", "value": "bold"}, "value": "normal"},
        "labelFlush": false, "labelOverlap": false
      }
    },
    "y": {
      "type": "quantitative",
      "scale": {"domain": [0.69594, 0.82013], "nice": false, "zero": false},
      "axis": {
        "orient": "right", "title": null, "grid": false, "domain": false, "tickSize": 4, "tickColor": "#555555",
        "values": [0.705, 0.71, 0.72, 0.725, 0.73, 0.733, 0.735, 0.74, 0.745, 0.755, 0.76, 0.765, 0.77, 0.775, 0.78, 0.785, 0.79, 0.795, 0.8, 0.805, 0.81, 0.815],
        "format": ".5f", "labelColor": "#4a4a4a", "labelFont": "Liberation Sans", "labelFontSize": 11.5, "labelPadding": 3,
        "labelFlush": false, "labelOverlap": false
      }
    }
  },
  "layer": [
    {
      "data": {"name": "candles"},
      "mark": {"type": "rule", "color": "#000000", "strokeWidth": 1},
      "encoding": {"x": {"field": "i"}, "y": {"field": "l"}, "y2": {"field": "h"}}
    },
    {
      "data": {"name": "candles"},
      "mark": {"type": "bar", "width": 2.3, "stroke": "#000000", "strokeWidth": 1},
      "encoding": {
        "x": {"field": "i"}, "y": {"field": "o"}, "y2": {"field": "c"},
        "fill": {"condition": {"test": "datum.c < datum.o", "value": "#5a1d1d"}, "value": "#ffffff"}
      }
    },
    {
      "data": {"name": "levels"},
      "transform": [{"filter": "datum.k == 'major'"}],
      "mark": {"type": "rule", "color": "#ff0000", "strokeWidth": 2.2, "strokeDash": [4, 2]},
      "encoding": {"x": null, "y": {"field": "p"}}
    },
    {
      "data": {"name": "levels"},
      "transform": [{"filter": "datum.k == 'minor'"}],
      "mark": {"type": "rule", "color": "#ff0000", "strokeWidth": 1.2, "strokeDash": [2, 2]},
      "encoding": {"x": null, "y": {"field": "p"}}
    },
    {
      "data": {"name": "lines"},
      "transform": [{"filter": "datum.k == 'blueDot'"}],
      "mark": {"type": "line", "clip": true, "color": "#3b3bff", "strokeWidth": 1, "strokeDash": [1.5, 2]},
      "encoding": {"x": {"field": "i"}, "y": {"field": "p"}, "detail": {"field": "id"}}
    },
    {
      "data": {"name": "lines"},
      "transform": [{"filter": "datum.k == 'redDot'"}],
      "mark": {"type": "line", "clip": true, "color": "#ff2b2b", "strokeWidth": 1, "strokeDash": [1.5, 2]},
      "encoding": {"x": {"field": "i"}, "y": {"field": "p"}, "detail": {"field": "id"}}
    },
    {
      "data": {"name": "lines"},
      "transform": [{"filter": "datum.k == 'blueThin'"}],
      "mark": {"type": "line", "clip": true, "color": "#1a1aff", "strokeWidth": 1.2},
      "encoding": {"x": {"field": "i"}, "y": {"field": "p"}, "detail": {"field": "id"}}
    },
    {
      "data": {"name": "lines"},
      "transform": [{"filter": "datum.k == 'blueThick'"}],
      "mark": {"type": "line", "clip": true, "color": "#1a1aff", "strokeWidth": 2.6},
      "encoding": {"x": {"field": "i"}, "y": {"field": "p"}, "detail": {"field": "id"}}
    },
    {
      "data": {"name": "lines"},
      "transform": [{"filter": "datum.k == 'blackDot'"}],
      "mark": {"type": "line", "clip": true, "color": "#333333", "strokeWidth": 1, "strokeDash": [1.5, 2]},
      "encoding": {"x": {"field": "i"}, "y": {"field": "p"}, "detail": {"field": "id"}}
    },
    {
      "data": {"name": "lines"},
      "transform": [{"filter": "datum.k == 'blackDash'"}],
      "mark": {"type": "line", "clip": true, "color": "#222222", "strokeWidth": 1, "strokeDash": [6, 5]},
      "encoding": {"x": {"field": "i"}, "y": {"field": "p"}, "detail": {"field": "id"}}
    },
    {
      "data": {"name": "lines"},
      "transform": [{"filter": "datum.k == 'blackThin'"}],
      "mark": {"type": "line", "clip": true, "color": "#000000", "strokeWidth": 1},
      "encoding": {"x": {"field": "i"}, "y": {"field": "p"}, "detail": {"field": "id"}}
    },
    {
      "data": {"name": "lines"},
      "transform": [{"filter": "datum.k == 'blackThick'"}],
      "mark": {"type": "line", "clip": true, "color": "#000000", "strokeWidth": 2.6},
      "encoding": {"x": {"field": "i"}, "y": {"field": "p"}, "detail": {"field": "id"}}
    },
    {
      "data": {"name": "labels"},
      "mark": {"type": "text", "align": "left", "baseline": "middle", "font": "DejaVu Sans", "fontSize": 24, "color": "#222222"},
      "encoding": {"x": {"field": "i"}, "y": {"field": "p"}, "text": {"field": "s"}}
    },
    {
      "data": {"name": "levels"},
      "transform": [{"filter": "datum.p != 0.7016"}],
      "mark": {"type": "point", "shape": "M0,-0.34H2V0.34H0Z", "size": 2601, "filled": true, "color": "#ff0000", "opacity": 1, "clip": false},
      "encoding": {"x": {"datum": 528.8}, "y": {"field": "p"}}
    },
    {
      "data": {"name": "levels"},
      "transform": [{"filter": "datum.p == 0.7016"}],
      "mark": {"type": "point", "shape": "M0,-0.34H2V0.34H0Z", "size": 2601, "filled": true, "color": "#ff0000", "opacity": 1, "clip": false, "yOffset": 7},
      "encoding": {"x": {"datum": 528.8}, "y": {"field": "p"}}
    },
    {
      "data": {"name": "levels"},
      "transform": [{"filter": "datum.p != 0.7016"}],
      "mark": {"type": "text", "align": "left", "baseline": "middle", "dx": 4, "font": "Liberation Sans", "fontSize": 11.5, "fontWeight": "bold", "color": "#ffffff"},
      "encoding": {"x": {"datum": 528.8}, "y": {"field": "p"}, "text": {"field": "p", "format": ".5f"}}
    },
    {
      "data": {"name": "levels"},
      "transform": [{"filter": "datum.p == 0.7016"}],
      "mark": {"type": "text", "align": "left", "baseline": "middle", "dx": 4, "dy": 7, "font": "Liberation Sans", "fontSize": 11.5, "fontWeight": "bold", "color": "#ffffff"},
      "encoding": {"x": {"datum": 528.8}, "y": {"field": "p"}, "text": {"field": "p", "format": ".5f"}}
    },
    {
      "data": {"name": "notes"},
      "transform": [{"filter": "datum.k == 'plain'"}],
      "mark": {"type": "text", "align": "left", "baseline": "middle", "font": "Liberation Sans", "fontSize": 12, "color": "#333333"},
      "encoding": {"x": {"field": "i"}, "y": {"field": "p"}, "text": {"field": "s"}}
    },
    {
      "data": {"name": "notes"},
      "transform": [{"filter": "datum.k == 'link'"}],
      "mark": {"type": "text", "align": "left", "baseline": "middle", "font": "Liberation Sans", "fontSize": 12, "color": "#3ba3e0"},
      "encoding": {"x": {"field": "i"}, "y": {"field": "p"}, "text": {"field": "s"}}
    },
    {
      "data": {"name": "notes"},
      "transform": [{"filter": "datum.k == 'bold'"}],
      "mark": {"type": "text", "align": "left", "baseline": "middle", "font": "Liberation Sans", "fontSize": 12, "fontWeight": "bold", "color": "#222222"},
      "encoding": {"x": {"field": "i"}, "y": {"field": "p"}, "text": {"field": "s"}}
    },
    {
      "data": {"name": "notes"},
      "transform": [{"filter": "datum.k == 'up'"}],
      "mark": {"type": "text", "align": "left", "baseline": "middle", "font": "Liberation Sans", "fontSize": 12, "color": "#2fa52f"},
      "encoding": {"x": {"field": "i"}, "y": {"field": "p"}, "text": {"field": "s"}}
    },
    {
      "data": {"name": "notes"},
      "transform": [{"filter": "datum.k == 'title'"}],
      "mark": {"type": "text", "align": "left", "baseline": "middle", "font": "Liberation Sans", "fontSize": 12, "fontWeight": "bold", "color": "#333333"},
      "encoding": {"x": {"field": "i"}, "y": {"field": "p"}, "text": {"field": "s"}}
    },
    {
      "data": {"values": [{}]},
      "mark": {"type": "rect", "fillOpacity": 0, "stroke": "#000000", "strokeWidth": 1.5, "clip": false},
      "encoding": {"x": {"datum": -0.12}, "x2": {"datum": 544.1}, "y": {"datum": 0.82013}, "y2": {"datum": 0.69111}}
    }
  ]
}
